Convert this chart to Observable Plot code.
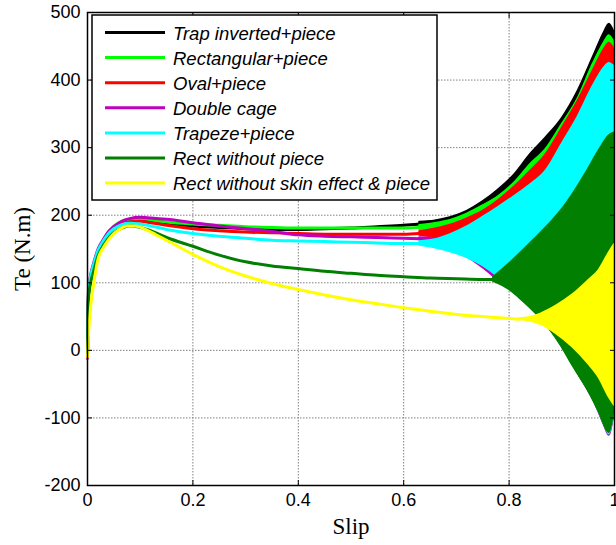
<!DOCTYPE html>
<html><head><meta charset="utf-8">
<script src="https://cdn.jsdelivr.net/npm/d3@7"></script>
<script src="https://cdn.jsdelivr.net/npm/@observablehq/plot@0.6"></script>
<style>
body{margin:0;background:#fff;}
#chart svg{display:block;}
</style></head><body><div id="chart"></div>
<script>
// ---- labels ----
const seriesNames = ["Trap inverted+piece","Rectangular+piece","Oval+piece","Double cage","Trapeze+piece","Rect without piece","Rect without skin effect & piece"];
const seriesColors = ["#000000","#00ff00","#ff0000","#bf00bf","#00ffff","#007f00","#ffff00"];
const xTicks = [0,0.2,0.4,0.6,0.8,1];
const yTicks = [-200,-100,0,100,200,300,400,500];
const xLabel = "Slip";
const yLabel = "Te (N.m)";

// ---- smooth parts (slip, Te) ----
const slipA = [0,.002,.006,.012,.02,.03,.04,.05,.065,.08,.1,.12,.15,.2,.25,.3,.35,.4,.45,.5,.55,.6,.63];
const teTrapInv  = [-5,82,104,122,144,160,173,181,188,192,193,191,188,184,182,180,179,179,180,181,183,185,187];
const teRectPiece= [-8,86,108,126,147,162,175,184,191,194,195,193,190,187,185,183,182,181,181,181,181,181,182];
const teOval     = [-6,84,106,124,145,160,172,180,187,190,191,189,185,180,177,175,174,173,172,172,172,172,173];
const teDouble   = [-12,90,112,130,150,164,176,183,191,195,197,196,194,189,184,180,176,171,169,168,167,166,165];
const teTrapeze  = [-8,88,110,128,148,162,173,180,186,188,187,184,179,173,169,166,163,162,161,160,159,158,158];

// ---- oscillating parts: envelope (slip, upper, lower) ----
const slipB = [.63,.66,.69,.72,.75,.78,.81,.84,.87,.9,.93,.96,.98,.99,1.0];
const hiTrapInv   = [190,192,197,206,220,238,260,290,315,343,383,435,470,483,470];
const loTrapInv   = [184,178,170,160,145,125,100,70,40,7,-33,-73,-107,-122,-90];
const hiRectPiece = [185,188,193,202,214,228,248,275,298,334,372,425,455,466,455];
const loRectPiece = [178,174,166,156,140,120,96,66,39,7,-33,-73,-107,-122,-90];
const hiOval      = [176,180,186,195,206,222,242,265,290,328,368,415,445,455,445];
const loOval      = [170,166,158,148,134,115,92,64,39,7,-33,-73,-108,-123,-90];
const hiDouble    = [167,166,170,180,193,208,223,240,262,300,340,387,413,420,415];
const loDouble    = [163,157,148,138,122,103,85,64,39,7,-33,-73,-110,-126,-90];
const hiTrapeze   = [161,164,172,183,197,212,228,245,266,305,345,392,418,425,420];
const loTrapeze   = [155,151,145,137,125,108,86,64,39,7,-33,-73,-108,-124,-90];

// Rect without piece
const slipC = [0,.002,.006,.012,.02,.03,.04,.05,.065,.08,.1,.12,.15,.2,.25,.3,.35,.4,.45,.5,.55,.6,.65,.7,.75,.77];
const teRectNo = [-4,78,100,118,140,155,166,174,181,184,182,177,167,154,141,131,125,121,117,114,111,109,107,106,105,105];
const slipD = [.77,.8,.82,.85,.88,.9,.92,.95,.97,.99,1.0];
const hiRectNo = [108,128,143,166,190,208,230,268,295,318,322];
const loRectNo = [102,90,77,55,28,5,-22,-60,-90,-122,-88];

// Rect without skin effect & piece
const slipE = [0,.002,.006,.012,.02,.03,.04,.05,.065,.075,.09,.11,.13,.15,.2,.25,.3,.35,.4,.45,.5,.55,.6,.65,.7,.75,.8,.82];
const teRectSkin = [-10,25,65,100,135,152,164,173,181,184,184,179,171,163,142,124,110,99,90,82,75,69,63,58,53,50,47,46];
const slipF = [.82,.84,.86,.89,.92,.95,.97,.99,1.0];
const hiRectSkin = [47,49,54,66,82,103,118,145,157];
const loRectSkin = [45,43,38,24,5,-20,-40,-70,-82];

// ---- build tables ----
const defs = [
  [slipA, teTrapInv,   slipB, hiTrapInv,   loTrapInv],
  [slipA, teRectPiece, slipB, hiRectPiece, loRectPiece],
  [slipA, teOval,      slipB, hiOval,      loOval],
  [slipA, teDouble,    slipB, hiDouble,    loDouble],
  [slipA, teTrapeze,   slipB, hiTrapeze,   loTrapeze],
  [slipC, teRectNo,    slipD, hiRectNo,    loRectNo],
  [slipE, teRectSkin,  slipF, hiRectSkin,  loRectSkin]
];
const seriesMarks = [];
defs.forEach(([s, te, os, hi, lo], i) => {
  const color = seriesColors[i];
  const smooth = s.map((x, j) => ({x, y: te[j]}));
  const band = os.map((x, j) => ({x, hi: hi[j], lo: lo[j]}));
  seriesMarks.push(Plot.line(smooth, {x: "x", y: "y", stroke: color, strokeWidth: 3, curve: "monotone-x"}));
  seriesMarks.push(Plot.areaY(band, {x: "x", y1: "lo", y2: "hi", fill: color, stroke: color, strokeWidth: 1.5, curve: "monotone-x"}));
});

const sans = "'Liberation Sans', Arial, sans-serif";
const serif = "'Liberation Serif', 'Times New Roman', serif";

const plot = Plot.plot({
  width: 616, height: 545,
  marginTop: 12, marginBottom: 60, marginLeft: 87, marginRight: 2,
  x: {domain: [0, 1]},
  y: {domain: [-200, 500]},
  style: {background: "white", fontFamily: sans, overflow: "visible"},
  marks: [
    Plot.gridX(xTicks, {stroke: "#808080", strokeOpacity: 1, strokeDasharray: "1.5,1.5"}),
    Plot.gridY(yTicks, {stroke: "#808080", strokeOpacity: 1, strokeDasharray: "1.5,1.5"}),
    ...seriesMarks,
    Plot.frame({stroke: "black", strokeWidth: 1.5}),
    Plot.axisX(xTicks, {anchor: "bottom", tickSize: -5, tickPadding: 13, tickFormat: d => String(d), fontSize: 18, label: null, fill: "black"}),
    Plot.axisX(xTicks, {anchor: "top", tickSize: -5, tickFormat: () => "", label: null}),
    Plot.axisY(yTicks, {anchor: "left", tickSize: -5, tickPadding: 12, tickFormat: d => String(d), fontSize: 18, label: null, fill: "black"}),
    Plot.axisY(yTicks, {anchor: "right", tickSize: -5, tickFormat: () => "", label: null}),
    Plot.text([yLabel], {frameAnchor: "left", text: d => d, rotate: -90, dx: -65, textAnchor: "middle", lineAnchor: "middle", fontFamily: serif, fontSize: 23, fill: "black"}),
    Plot.text([xLabel], {frameAnchor: "bottom", text: d => d, dy: 41, textAnchor: "middle", lineAnchor: "middle", fontFamily: serif, fontSize: 23, fill: "black"})
  ]
});
document.getElementById("chart").appendChild(plot);

// ---- legend box ----
const svg = d3.select(plot);
const lg = svg.append("g").attr("text-anchor", "start");
lg.append("rect").attr("x", 92).attr("y", 15).attr("width", 345).attr("height", 185)
  .attr("fill", "white").attr("stroke", "black").attr("stroke-width", 1.5);
seriesNames.forEach((name, i) => {
  const cy = 32.5 + i * 25.1;
  lg.append("line").attr("x1", 105).attr("x2", 165).attr("y1", cy).attr("y2", cy)
    .attr("stroke", seriesColors[i]).attr("stroke-width", 3);
  lg.append("text").attr("x", 173).attr("y", cy + 7).attr("text-anchor", "start").text(name)
    .attr("font-family", sans).attr("font-style", "italic").attr("font-size", 18.5).attr("fill", "black");
});
</script>
</body></html>
